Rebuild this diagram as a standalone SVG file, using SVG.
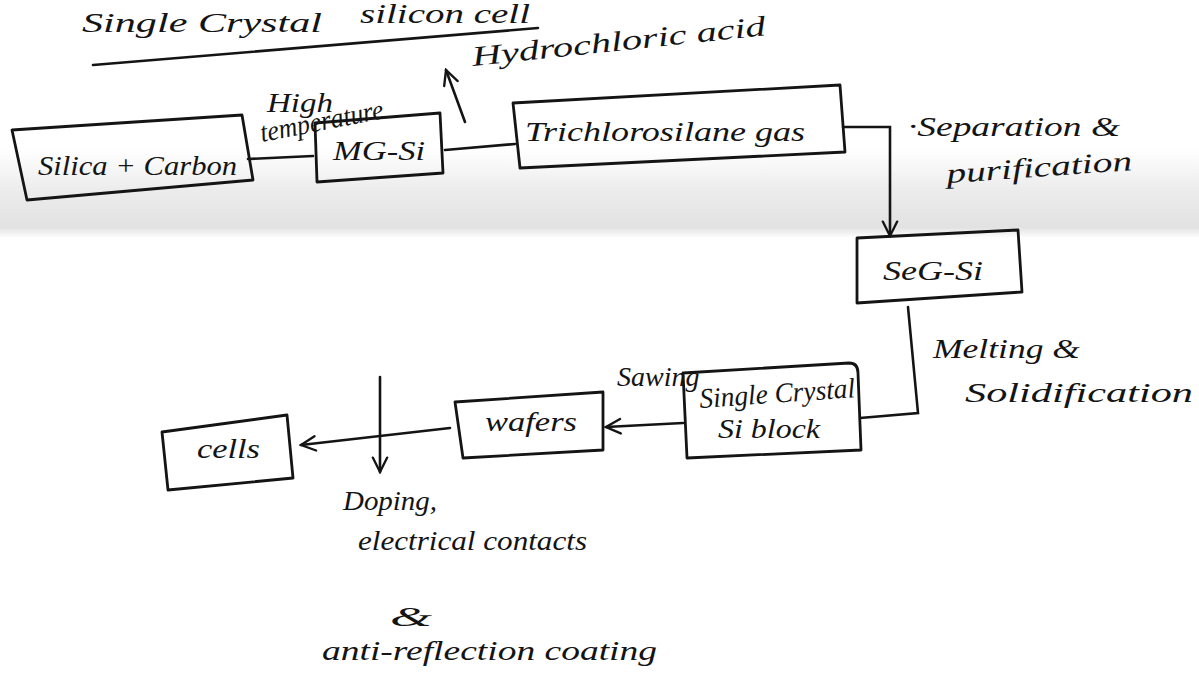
<svg xmlns="http://www.w3.org/2000/svg" width="1199" height="677" viewBox="0 0 1199 677">
<defs>
<style>
.box{fill:none;stroke:#141414;stroke-width:2.8;stroke-linejoin:round}
.ln{fill:none;stroke:#141414;stroke-width:2.6;stroke-linecap:round}
.t{font-family:"Liberation Serif",serif;font-style:italic;fill:#141414;font-size:28px}
</style>
<linearGradient id="band" x1="0" y1="0" x2="0" y2="1">
<stop offset="0" stop-color="#ffffff"/>
<stop offset="0.45" stop-color="#ececec"/>
<stop offset="0.88" stop-color="#e2e2e2"/>
<stop offset="1" stop-color="#ffffff"/>
</linearGradient>
<marker id="ah" viewBox="0 0 20 20" refX="18" refY="10" markerWidth="18" markerHeight="18" markerUnits="userSpaceOnUse" orient="auto">
<path d="M2,2 L18,10 L2,18" fill="none" stroke="#141414" stroke-width="2.6" stroke-linecap="round"/>
</marker>
</defs>
<rect width="1199" height="677" fill="#ffffff"/>
<rect x="0" y="150" width="1199" height="88" fill="url(#band)"/>

<g id="title">
<text class="t" x="82" y="32" font-size="36" textLength="240" lengthAdjust="spacingAndGlyphs">Single Crystal</text>
<text class="t" x="360" y="23" font-size="26" textLength="170" lengthAdjust="spacingAndGlyphs">silicon cell</text>
<path class="ln" d="M93,65 L538,28"/>
</g>

<g id="connectors">
<path class="ln" d="M248,159 L313,156"/>
<path class="ln" d="M445,150 L515,144"/>
<path class="ln" d="M465,122 L446,70" marker-end="url(#ah)"/>
<path class="ln" d="M843,127 L890,127 L890,236" marker-end="url(#ah)"/>
<path class="ln" d="M908,307 L918,413 L860,418"/>
<path class="ln" d="M683,423 L606,427" marker-end="url(#ah)"/>
<path class="ln" d="M450,428 L301,445" marker-end="url(#ah)"/>
<path class="ln" d="M380,377 L380,472" marker-end="url(#ah)"/>
</g>

<g id="n-silica">
<path class="box" d="M12,130 L242,115 L253,180 L27,200 Z"/>
<text class="t" x="38" y="175" font-size="30" textLength="199" lengthAdjust="spacingAndGlyphs">Silica + Carbon</text>
</g>
<g id="n-mgsi">
<path class="box" d="M315,123 L440,113 L443,173 L317,182 Z"/>
<text class="t" x="333" y="160" font-size="30" textLength="92" lengthAdjust="spacingAndGlyphs">MG-Si</text>
</g>
<g id="n-tcs">
<path class="box" d="M513,103 L840,85 L845,152 L520,168 Z"/>
<text class="t" x="525" y="141" font-size="34" textLength="280" lengthAdjust="spacingAndGlyphs">Trichlorosilane gas</text>
</g>
<g id="n-segsi">
<path class="box" d="M857,238 L1018,230 L1022,292 L857,303 Z"/>
<text class="t" x="883" y="280" font-size="32" textLength="100" lengthAdjust="spacingAndGlyphs">SeG-Si</text>
</g>
<g id="n-block">
<path class="box" d="M683,373 L849,363 Q858,363 858,373 L861,450 L687,458 Z"/>
<text class="t" x="700" y="408" font-size="26" textLength="156" lengthAdjust="spacingAndGlyphs" transform="rotate(-4 700 408)">Single Crystal</text>
<text class="t" x="718" y="438" font-size="26" textLength="102" lengthAdjust="spacingAndGlyphs">Si block</text>
</g>
<g id="n-wafers">
<path class="box" d="M455,402 L603,392 L603,450 L463,458 Z"/>
<text class="t" x="485" y="431" font-size="30" textLength="92" lengthAdjust="spacingAndGlyphs">wafers</text>
</g>
<g id="n-cells">
<path class="box" d="M162,432 L287,415 L293,478 L168,490 Z"/>
<text class="t" x="197" y="458" font-size="30" textLength="63" lengthAdjust="spacingAndGlyphs">cells</text>
</g>

<g id="labels">
<text class="t" x="267" y="112" font-size="28" textLength="66" lengthAdjust="spacingAndGlyphs">High</text>
<text class="t" x="262" y="142" font-size="24" textLength="125" lengthAdjust="spacingAndGlyphs" transform="rotate(-11 262 142)">temperature</text>
<text class="t" x="473" y="66" font-size="32" textLength="295" lengthAdjust="spacingAndGlyphs" transform="rotate(-6 473 66)">Hydrochloric acid</text>
<text class="t" x="908" y="136" font-size="34" textLength="212" lengthAdjust="spacingAndGlyphs">·Separation &amp;</text>
<text class="t" x="947" y="183" font-size="34" textLength="186" lengthAdjust="spacingAndGlyphs" transform="rotate(-4 947 183)">purification</text>
<text class="t" x="933" y="358" font-size="32" textLength="147" lengthAdjust="spacingAndGlyphs">Melting &amp;</text>
<text class="t" x="965" y="402" font-size="34" textLength="228" lengthAdjust="spacingAndGlyphs">Solidification</text>
<text class="t" x="617" y="386" font-size="22">Sawing</text>
<text class="t" x="343" y="510" font-size="28" textLength="94" lengthAdjust="spacingAndGlyphs">Doping,</text>
<text class="t" x="358" y="550" font-size="30" textLength="229" lengthAdjust="spacingAndGlyphs">electrical contacts</text>
<text class="t" x="390" y="626" font-size="62" textLength="42" lengthAdjust="spacingAndGlyphs">&amp;</text>
<text class="t" x="322" y="660" font-size="34" textLength="335" lengthAdjust="spacingAndGlyphs">anti-reflection coating</text>
</g>
</svg>
